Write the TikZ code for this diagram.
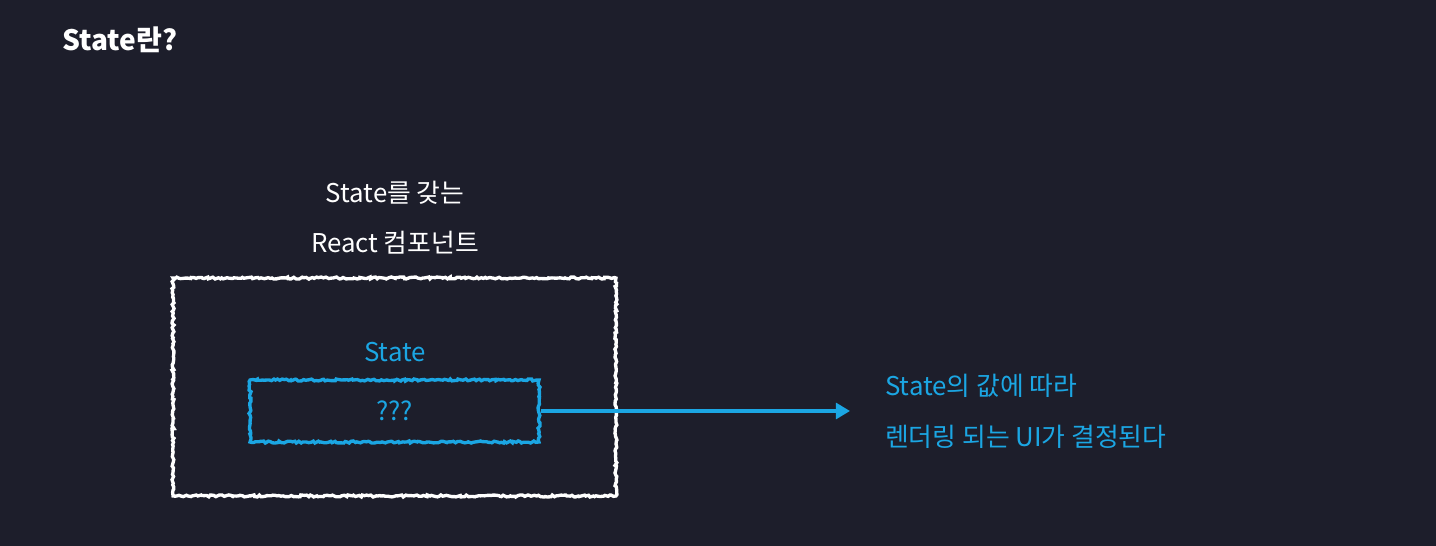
\documentclass[tikz,border=0pt]{standalone}
\usepackage{fontspec}
\setmainfont{Noto Sans CJK KR}
\usetikzlibrary{decorations.pathmorphing,arrows.meta}
\definecolor{bg}{HTML}{1D1E2B}
\definecolor{sky}{HTML}{1BA6E3}
\tikzset{
    rough/.style={decorate,decoration={random steps,segment length=1.2pt,amplitude=0.6pt},line width=1.9pt},
    txt/.style={font=\fontsize{14.7}{17}\selectfont}
}
\begin{document}
\begin{tikzpicture}[x=0.02cm,y=-0.02cm]
    \fill[bg](0,0)rectangle(1436,546);
    \useasboundingbox(0,0)rectangle(1436,546);
    \node[anchor=west,text=white,font=\bfseries\fontsize{16}{19}\selectfont](title)at(56,40){State란?};
    \node[txt,text=white](owner)at(395,193){State를 갖는};
    \node[txt,text=white](react)at(395,243){React 컴포넌트};
    \node[rough,draw=white,minimum width=8.86cm,minimum height=4.36cm](comp)at(394.5,387){};
    \node[txt,text=sky](statelabel)at(395,352){State};
    \node[rough,draw=sky,txt,text=sky,minimum width=5.78cm,minimum height=1.24cm](state)at(394.5,411){???};
    \coordinate(tip)at(850,411);
    \draw[sky,line width=1.9pt,-{Triangle[length=8pt,width=9pt]}](state.east)--(tip);
    \node[txt,text=sky,anchor=west](line1)at(879,386){State의 값에 따라};
    \node[txt,text=sky,anchor=west](line2)at(879,437){렌더링 되는 UI가 결정된다};
\end{tikzpicture}
\end{document}
